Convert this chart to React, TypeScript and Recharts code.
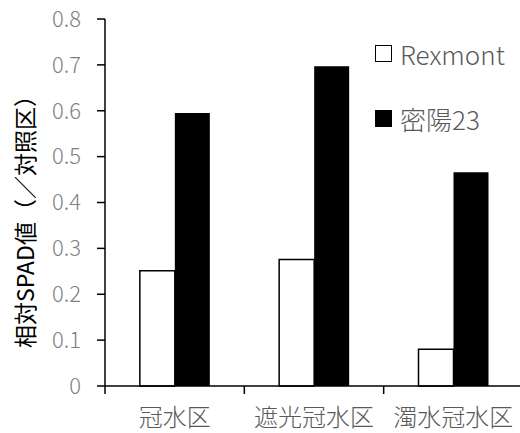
import React from "react";
import { BarChart, Bar, XAxis, YAxis } from "recharts";

const categories = ["冠水区", "遮光冠水区", "濁水冠水区"];
const rexmont = [0.251, 0.276, 0.08];
const milyang23 = [0.595, 0.697, 0.466];
const yTicks = [0, 0.1, 0.2, 0.3, 0.4, 0.5, 0.6, 0.7, 0.8];

const seriesNames = { rexmont: "Rexmont", milyang23: "密陽23" };

const data = categories.map((name, i) => ({
  name,
  rexmont: rexmont[i],
  milyang23: milyang23[i],
}));

const W = 520;
const H = 433;
const AXIS_W = 105;
const PLOT_TOP = 19;
const PLOT_BOTTOM = 386;
const RIGHT = -3;
const BAND = (W - AXIS_W - RIGHT) / categories.length;
const FONT = '"Noto Sans CJK JP", "Noto Sans", sans-serif';

function CategoryTick(props: any) {
  const { x, payload } = props;
  return (
    <g>
      <line
        x1={x - BAND / 2}
        x2={x - BAND / 2}
        y1={PLOT_BOTTOM}
        y2={PLOT_BOTTOM + 8}
        stroke="#000"
        strokeWidth={1.5}
      />
      <text
        x={x}
        y={PLOT_BOTTOM + 40}
        textAnchor="middle"
        fill="#595959"
        fontSize={24}
        fontFamily={FONT}
        fontWeight={300}
      >
        {payload.value}
      </text>
    </g>
  );
}

// legend drawn as an overlay so it does not shrink the plot area
function LegendBox() {
  const rows = [
    { label: seriesNames.rexmont, fill: "#fff" },
    { label: seriesNames.milyang23, fill: "#000" },
  ];
  return (
    <div style={{ position: "absolute", left: 375, top: 37, fontFamily: FONT }}>
      {rows.map((r, i) => (
        <div
          key={r.label}
          style={{
            display: "flex",
            alignItems: "center",
            height: 32,
            marginBottom: i === 0 ? 33 : 0,
          }}
        >
          <span
            style={{
              display: "inline-block",
              width: 15,
              height: 15,
              background: r.fill,
              border: "1.5px solid #000",
              marginRight: 8,
            }}
          />
          <span style={{ fontSize: 26, color: "#595959", fontWeight: 300 }}>
            {r.label}
          </span>
        </div>
      ))}
    </div>
  );
}

export default function App() {
  return (
    <div style={{ position: "absolute", left: 0, top: 0, width: W, height: H, background: "#fff" }}>
      <BarChart
        width={W}
        height={H}
        data={data}
        margin={{ top: PLOT_TOP, right: RIGHT, bottom: 0, left: 0 }}
        barCategoryGap="25%"
        barGap={0}
      >
        <XAxis
          dataKey="name"
          height={H - PLOT_BOTTOM}
          axisLine={{ stroke: "#000", strokeWidth: 1.5 }}
          tickLine={false}
          tick={<CategoryTick />}
          interval={0}
        />
        <YAxis
          width={AXIS_W}
          domain={[0, 0.8]}
          ticks={yTicks}
          interval={0}
          tickFormatter={(v: number) => (v === 0 ? "0" : v.toFixed(1))}
          axisLine={{ stroke: "#000", strokeWidth: 1.5 }}
          tickLine={{ stroke: "#000", strokeWidth: 1.5 }}
          tickSize={8}
          tickMargin={16}
          tick={{ fill: "#7f7f7f", fontSize: 22, fontFamily: FONT, fontWeight: 300 }}
          label={() => (
            <text
              x={24}
              y={216}
              transform="rotate(-90 24 216)"
              textAnchor="middle"
              dominantBaseline="central"
              fontSize={23}
              fontFamily={FONT}
              fill="#000"
            >
              相対SPAD値（／対照区）
            </text>
          )}
        />
        <Bar
          dataKey="rexmont"
          name={seriesNames.rexmont}
          fill="#fff"
          stroke="#000"
          strokeWidth={1.5}
          isAnimationActive={false}
        />
        <Bar
          dataKey="milyang23"
          name={seriesNames.milyang23}
          fill="#000"
          isAnimationActive={false}
        />
      </BarChart>
      <LegendBox />
    </div>
  );
}
